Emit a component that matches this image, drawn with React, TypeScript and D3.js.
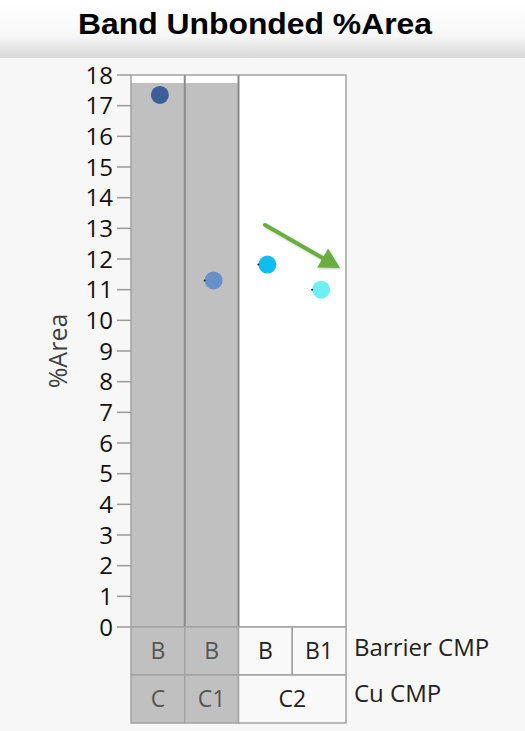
import React from "react";
import * as d3 from "d3";

const title = "Band Unbonded %Area";
const barrierCMP = ["B", "B", "B", "B1"];
const cuCMP = ["C", "C1", "C2", "C2"];
const areaValues = [17.35, 11.3, 11.82, 11.0];
const pointColors = ["#3b5e98", "#6890c8", "#10bdf0", "#6cf0f4"];
const shadedColumns = [true, true, false, false];
const yTicks = d3.range(0, 19);

const W = 525;
const H = 731;
const left = 131;
const right = 346;
const top = 75;
const bottom = 627;
const rowH = 48;

export default function App() {
  const x = d3.scaleBand<number>().domain(d3.range(areaValues.length)).range([left, right]).padding(0);
  const y = d3.scaleLinear().domain([0, 18]).range([bottom, top]);
  const bw = x.bandwidth();
  const font = "'Open Sans', 'Noto Sans', sans-serif";

  const cuGroups: { label: string; start: number; end: number; shaded: boolean }[] = [];
  cuCMP.forEach((c, i) => {
    const last = cuGroups[cuGroups.length - 1];
    if (last && last.label === c) last.end = i;
    else cuGroups.push({ label: c, start: i, end: i, shaded: shadedColumns[i] });
  });

  const arrow = { x1: 265, y1: 225, x2: 340, y2: 268 };
  const ang = Math.atan2(arrow.y2 - arrow.y1, arrow.x2 - arrow.x1);
  const headLen = 20;
  const headW = 11;
  const bx = arrow.x2 - headLen * Math.cos(ang);
  const by = arrow.y2 - headLen * Math.sin(ang);
  const px = -Math.sin(ang);
  const py = Math.cos(ang);

  return (
    <svg width={W} height={H} style={{ position: "absolute", left: 0, top: 0, display: "block" }}>
      <defs>
        <linearGradient id="hdr" x1="0" y1="0" x2="0" y2="1">
          <stop offset="0" stopColor="#ffffff" />
          <stop offset="0.6" stopColor="#f8f8f8" />
          <stop offset="1" stopColor="#d8d8d8" />
        </linearGradient>
        <filter id="sh" x="-20%" y="-20%" width="140%" height="140%">
          <feDropShadow dx="1" dy="1" stdDeviation="1.2" floodColor="#000" floodOpacity="0.25" />
        </filter>
      </defs>
      <rect x={0} y={0} width={W} height={H} fill="#f7f7f7" />
      <rect x={0} y={0} width={W} height={58} fill="url(#hdr)" />
      <text x={255} y={34} textAnchor="middle" fontFamily="'Liberation Sans', Arial, sans-serif" fontWeight="bold" fontSize={29} textLength={354} lengthAdjust="spacingAndGlyphs" fill="#000">
        {title}
      </text>

      <rect x={left} y={top} width={right - left} height={bottom - top} fill="#ffffff" />
      {areaValues.map((_, i) =>
        shadedColumns[i] ? (
          <rect key={"sc" + i} x={x(i)!} y={top + 8} width={bw} height={bottom - top - 8} fill="#c0c0c0" />
        ) : null
      )}
      {cuGroups.slice(1).map((g, i) => (
        <line key={"sep" + i} x1={x(g.start)!} x2={x(g.start)!} y1={top} y2={bottom} stroke="#8a8a8a" strokeWidth={2} />
      ))}
      <rect x={left} y={top} width={right - left} height={bottom - top} fill="none" stroke="#a3a3a3" strokeWidth={1.5} />

      {yTicks.map((t) => (
        <g key={"t" + t}>
          <line x1={117} x2={left} y1={y(t)} y2={y(t)} stroke="#9a9a9a" strokeWidth={1.5} />
          <text x={113} y={y(t)} dy="0.36em" textAnchor="end" fontFamily={font} fontSize={24} fill="#111">
            {t}
          </text>
        </g>
      ))}
      <text transform={`translate(67,${(top + bottom) / 2}) rotate(-90)`} textAnchor="middle" fontFamily={font} fontSize={25} fill="#404040">
        %Area
      </text>

      {areaValues.map((v, i) => (
        <g key={"p" + i}>
          <circle cx={x(i)! + bw / 2 + 2} cy={y(v)} r={9} fill={pointColors[i]} />
          {i > 0 ? <circle cx={x(i)! + bw / 2 - 7} cy={y(v)} r={1} fill="#222" /> : null}
        </g>
      ))}

      <g filter="url(#sh)">
        <line x1={arrow.x1} y1={arrow.y1} x2={bx} y2={by} stroke="#6aae42" strokeWidth={4} strokeLinecap="round" />
        <polygon
          points={`${arrow.x2},${arrow.y2} ${bx + px * headW},${by + py * headW} ${bx - px * headW},${by - py * headW}`}
          fill="#6aae42"
        />
      </g>

      {barrierCMP.map((b, i) => (
        <g key={"b" + i}>
          <rect x={x(i)!} y={bottom} width={bw} height={rowH} fill={shadedColumns[i] ? "#c0c0c0" : "#f9f9f9"} stroke="#a3a3a3" strokeWidth={1.5} />
          <text x={x(i)! + bw / 2} y={bottom + rowH / 2} dy="0.36em" textAnchor="middle" fontFamily={font} fontSize={23} fill={shadedColumns[i] ? "#555" : "#222"}>
            {b}
          </text>
        </g>
      ))}
      {cuGroups.map((g, i) => {
        const x0 = x(g.start)!;
        const w = x(g.end)! + bw - x0;
        return (
          <g key={"c" + i}>
            <rect x={x0} y={bottom + rowH} width={w} height={rowH} fill={g.shaded ? "#c0c0c0" : "#f9f9f9"} stroke="#a3a3a3" strokeWidth={1.5} />
            <text x={x0 + w / 2} y={bottom + rowH * 1.5} dy="0.36em" textAnchor="middle" fontFamily={font} fontSize={23} fill={g.shaded ? "#555" : "#222"}>
              {g.label}
            </text>
          </g>
        );
      })}
      <text x={354} y={bottom + rowH / 2 - 4} dy="0.36em" fontFamily={font} fontSize={24} fill="#222">
        Barrier CMP
      </text>
      <text x={354} y={bottom + rowH * 1.5 - 6} dy="0.36em" fontFamily={font} fontSize={24} fill="#222">
        Cu CMP
      </text>
    </svg>
  );
}
